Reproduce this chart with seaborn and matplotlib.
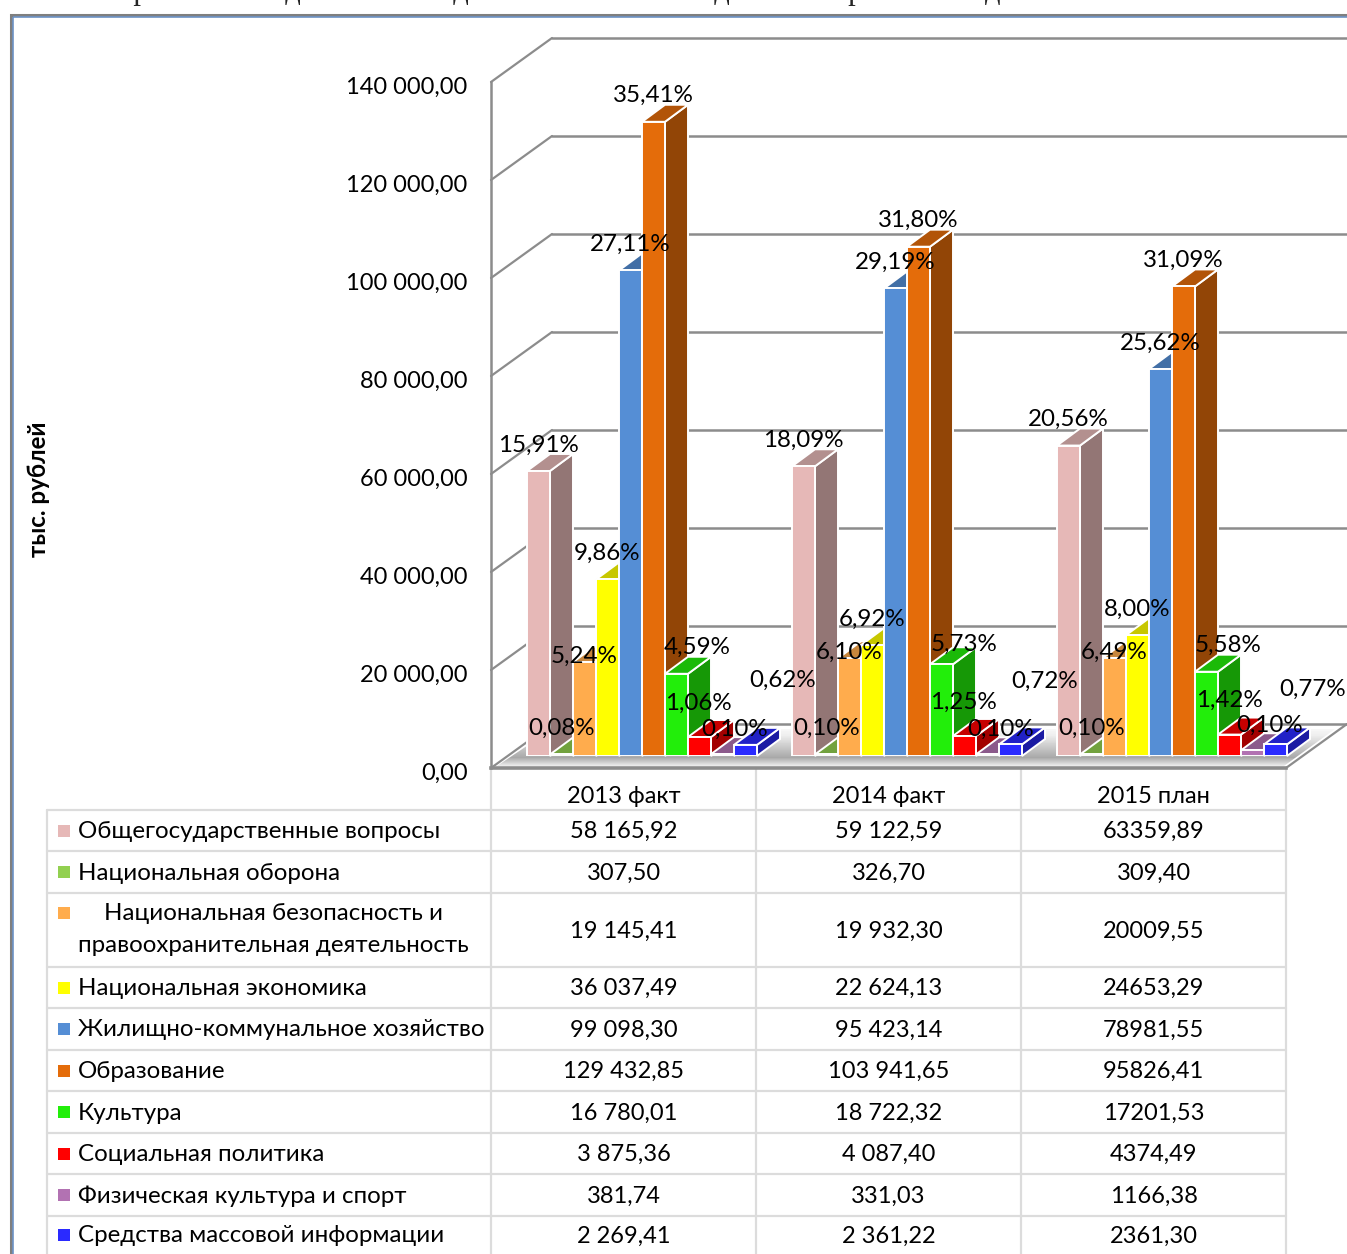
import numpy as np
import pandas as pd
import seaborn as sns
import matplotlib.pyplot as plt
from matplotlib.patches import Polygon, Rectangle
from matplotlib.transforms import ScaledTranslation

W, H = 1347, 1254

categories = [
    "Общегосударственные вопросы",
    "Национальная оборона",
    "Национальная безопасность и",
    "Национальная экономика",
    "Жилищно-коммунальное хозяйство",
    "Образование",
    "Культура",
    "Социальная политика",
    "Физическая культура и спорт",
    "Средства массовой информации",
]
periods = ["2013 факт", "2014 факт", "2015 план"]
values_2013 = [58165.92, 307.50, 19145.41, 36037.49, 99098.30, 129432.85, 16780.01, 3875.36, 381.74, 2269.41]
values_2014 = [59122.59, 326.70, 19932.30, 22624.13, 95423.14, 103941.65, 18722.32, 4087.40, 331.03, 2361.22]
values_2015 = [63359.89, 309.40, 20009.55, 24653.29, 78981.55, 95826.41, 17201.53, 4374.49, 1166.38, 2361.30]
share_2013 = ["15,91%", "0,08%", "5,24%", "9,86%", "27,11%", "35,41%", "4,59%", "1,06%", "0,10%", "0,62%"]
share_2014 = ["18,09%", "0,10%", "6,10%", "6,92%", "29,19%", "31,80%", "5,73%", "1,25%", "0,10%", "0,72%"]
share_2015 = ["20,56%", "0,10%", "6,49%", "8,00%", "25,62%", "31,09%", "5,58%", "1,42%", "0,10%", "0,77%"]
colors = ["#E6B8B7", "#92D050", "#FFAC4D", "#FFFF00", "#558ED5",
          "#E46C0A", "#22EE0A", "#FF0000", "#B272B2", "#2A2AFF"]
y_ticks = [0, 20000, 40000, 60000, 80000, 100000, 120000, 140000]

# label shifts in pixels from the bar centre / top, where the default is off
label_shift = {
    (0, 2): (0, 7), (0, 6): (21, 27), (0, 7): (-1, 35), (0, 8): (12, 26), (0, 9): (37, 66),
    (1, 2): (0, 7), (1, 6): (22, 21), (1, 7): (-1, 35), (1, 8): (13, 26), (1, 9): (34, 64),
    (2, 2): (0, 7), (2, 6): (21, 27), (2, 7): (0, 35), (2, 8): (17, 26), (2, 9): (37, 56),
}

sns.set_theme(style="white")
plt.rcParams["font.family"] = ["Lato", "DejaVu Sans"]
FS = 17.4
FS_NUM = 17
GRID = "#8c8c8c"
LINE = "#dcdcdc"


def box(fig, left, top, right, bottom):
    return fig.add_axes([left / W, 1 - bottom / H, (right - left) / W, (bottom - top) / H])


def money(v, sep=" "):
    return f"{v:,.2f}".replace(",", sep).replace(".", ",")


fig = plt.figure(figsize=(W / 100, H / 100), dpi=100)

# page layer in pixel coordinates: frame, walls, floor, table
bg = fig.add_axes([0, 0, 1, 1], zorder=0)
bg.axis("off")

bg.add_patch(Rectangle((11, 15), W + 20, H + 20, fc="white", ec="#7f7f7f", lw=2.2))
bg.add_patch(Rectangle((13, 17), W + 20, H + 20, fc="none", ec="#6d93c6", lw=1.2))
bg.text(113, -9, "Сравним все данные и сведения о местном бюджете за прошлые годы",
        family="Liberation Serif", fontsize=22, va="center")

# front plane of the chart, 0 at y=768 and 140 000 at y=82
X0, X1, Y0, Y1 = 491, 1286, 768, 82
DX, DY = 61, -44
for t in y_ticks:
    y = Y0 + (Y1 - Y0) * t / y_ticks[-1]
    bg.plot([X0, X0 + DX], [y, y + DY], color=GRID, lw=1.6, solid_capstyle="round")
    bg.plot([X0 + DX, W], [y + DY, y + DY], color=GRID, lw=1.8)

# floor with a soft shadow band around the base of the bars
floor = Polygon([(X0 + 6, Y0 - 2), (X1 - 2, Y0 - 2), (X1 + DX - 12, Y0 + DY + 5), (X0 + DX, Y0 + DY + 5)],
                fc="white", ec="none", transform=bg.transData)
bg.add_patch(floor)
shade = np.interp(np.arange(724, 769), [724, 735, 757, 767, 768], [1.0, 0.93, 0.66, 0.98, 1.0])
img = bg.imshow(shade[:, None], cmap="gray", vmin=0, vmax=1, extent=(X0, X1 + DX, 769, 724),
                aspect="auto", zorder=1.5)
img.set_clip_path(floor)
bg.plot([X1, X1 + DX], [Y0, Y0 + DY], color=GRID, lw=1.6, zorder=2)
bg.set_xlim(0, W)
bg.set_ylim(H, 0)

# table
columns = [491, 756, 1021, 1286]
rows = [810, 851, 893, 967, 1008, 1050, 1091, 1133, 1174, 1216, 1262]
for y in rows[:-1]:
    bg.plot([47, columns[-1]], [y, y], color=LINE, lw=1.6)
for x in columns:
    bg.plot([x, x], [Y0, rows[-1]], color=LINE, lw=1.6)
bg.plot([47, 47], [rows[0], rows[-1]], color=LINE, lw=1.6)

table_text = [
    [money(v) for v in values_2013],
    [money(v) for v in values_2014],
    [money(v, "") for v in values_2015],
]
for i, name in enumerate(categories):
    top, bottom = rows[i], rows[i + 1]
    mid = (top + bottom) / 2 if i < 9 else 1235
    text_y = top + 20 if i == 2 else mid
    bg.add_patch(Rectangle((58, text_y - 6), 12, 12, fc=colors[i], ec="none"))
    bg.text(104 if i == 2 else 78, text_y + 1, name, fontsize=FS, va="center", color="black")
    if i == 2:
        bg.text(78, text_y + 33, "правоохранительная деятельность", fontsize=FS, va="center", color="black")
    for col, vals in enumerate(table_text):
        bg.text((columns[col] + columns[col + 1]) / 2, mid + 1, vals[i], fontsize=FS_NUM,
                ha="center", va="center", color="black")

# axis layer: tick labels and the front edges
ax = box(fig, X0, Y1, X1, Y0)
ax.set_zorder(1)
ax.patch.set_visible(False)
ax.set_xlim(0, 3)
ax.set_ylim(0, y_ticks[-1])
ax.set_yticks(y_ticks)
ax.set_yticklabels([money(t) for t in y_ticks], fontsize=FS_NUM, color="black")
ax.set_xticks([0.5, 1.5, 2.5])
ax.set_xticklabels(periods, fontsize=FS_NUM, color="black")
ax.tick_params(axis="y", length=0, pad=17)
ax.tick_params(axis="x", length=0, pad=13)
# tick labels sit about 3 px under their gridline in the original
for lab in ax.get_yticklabels():
    lab.set_transform(lab.get_transform() + ScaledTranslation(0, -0.03, fig.dpi_scale_trans))
for side in ["top", "right"]:
    ax.spines[side].set_visible(False)
ax.spines["left"].set(color=GRID, linewidth=1.8)
ax.spines["bottom"].set(color=GRID, linewidth=2.6)
ax.set_ylabel("")
fig.text(39 / W, 1 - 489 / H, "тыс. рублей", rotation=90, fontsize=FS, fontweight="bold",
         ha="center", va="center", color="black")

# bar layer sits 18 px right and 12 px up of the front plane (mid depth)
bar_ax = box(fig, X0 + 18.5, Y1 - 12, X1 + 18.5, Y0 - 12)
bar_ax.set_zorder(2)
bar_ax.patch.set_visible(False)

df = pd.DataFrame({
    "period": np.repeat(periods, len(categories)),
    "category": categories * 3,
    "value": values_2013 + values_2014 + values_2015,
})
sns.barplot(data=df, x="period", y="value", hue="category", hue_order=categories, order=periods,
            palette=colors, width=0.868, gap=0, saturation=1, legend=False, ax=bar_ax,
            edgecolor="white", linewidth=1.4)
bar_ax.set_xlim(-0.5, 2.5)
bar_ax.set_ylim(0, y_ticks[-1])
bar_ax.axis("off")

px_x = 3 / (X1 - X0)
px_y = y_ticks[-1] / (Y0 - Y1)
depth_x, depth_y = 23 * px_x, 17 * px_y
shares = [share_2013, share_2014, share_2015]

for c, container in enumerate(bar_ax.containers):
    rgb = np.array(plt.matplotlib.colors.to_rgb(colors[c]))
    for g, bar in enumerate(container):
        x, w, h = bar.get_x(), bar.get_width(), bar.get_height()
        order = 10 + (g * 10 + c) * 3
        bar.set_zorder(order + 2)
        bar_ax.add_patch(Polygon([(x + w, 0), (x + w + depth_x, depth_y), (x + w + depth_x, h + depth_y), (x + w, h)],
                                 fc=rgb * 0.64, ec="white", lw=1.4, zorder=order, clip_on=False))
        bar_ax.add_patch(Polygon([(x, h), (x + depth_x, h + depth_y), (x + w + depth_x, h + depth_y), (x + w, h)],
                                 fc=rgb * 0.78, ec="white", lw=1.4, zorder=order + 1, clip_on=False))
        dx, dy = label_shift.get((g, c), (0, 27))
        bar_ax.annotate(shares[g][c], (x + w / 2, h), xytext=(dx * 0.72, (dy - 1) * 0.72), textcoords="offset points",
                        ha="center", va="center", fontsize=FS, color="black", zorder=500, annotation_clip=False)

fig.savefig("out.png", dpi=100)
